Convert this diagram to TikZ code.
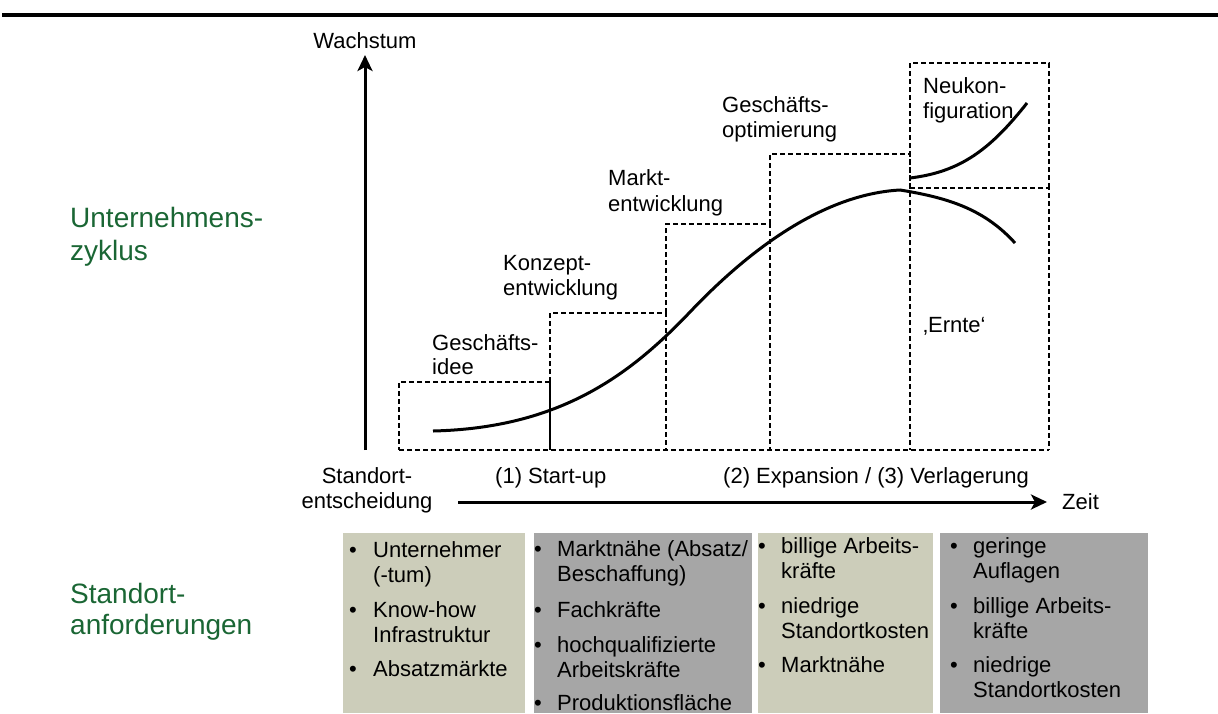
\documentclass[tikz,border=0pt]{standalone}
\usepackage{fontspec}
\setmainfont{Liberation Sans}
\usetikzlibrary{arrows.meta}
\definecolor{ugreen}{RGB}{26,102,52}
\definecolor{boxbeige}{RGB}{204,205,186}
\definecolor{boxgray}{RGB}{166,166,166}
\begin{document}
\begin{tikzpicture}[x=1pt,y=-1pt,
  lbl/.style={anchor=base west, inner sep=0pt, font=\fontsize{22}{25}\selectfont},
  clbl/.style={anchor=base, inner sep=0pt, font=\fontsize{22}{25}\selectfont},
  glbl/.style={anchor=base west, inner sep=0pt, text=ugreen, font=\fontsize{28}{33}\selectfont},
  phaseline/.style={line width=1.8pt, dash pattern=on 5pt off 3pt},
  solidedge/.style={line width=1.8pt},
  axisline/.style={line width=3pt, -{Stealth[length=16pt,width=15pt,inset=4pt]}},
  curveline/.style={line width=3pt}
]
\useasboundingbox (0,0) rectangle (1218,713);

% top rule
\draw[line width=3.5pt] (2,15) -- (1218,15);

% green side labels
\node[glbl] (uz1) at (70,227) {Unternehmens-};
\node[glbl] (uz2) at (70,260) {zyklus};
\node[glbl] (sa1) at (70,603) {Standort-};
\node[glbl] (sa2) at (70,634) {anforderungen};

% axes
\coordinate (yb) at (365,450);
\coordinate (yt) at (365,55);
\coordinate (xl) at (458,502);
\coordinate (xr) at (1047,502);
\draw[axisline] (yb) -- (yt);
\draw[axisline] (xl) -- (xr);
\node[clbl] (wachstum) at (365,48) {Wachstum};
\node[lbl] (zeit) at (1062,509) {Zeit};
\node[clbl] (so1) at (367,483) {Standort-};
\node[clbl] (so2) at (367,508) {entscheidung};
\node[lbl] (start) at (495,483) {(1) Start-up};
\node[lbl] (exp) at (723,483) {(2) Expansion / (3) Verlagerung};

% phase boxes (shared edges drawn once)
\draw[phaseline] (399,450) -- (1049,450);
\draw[phaseline] (550,382) -- (399,382) -- (399,450);
\draw[solidedge] (550,382) -- (550,450);
\draw[phaseline] (550,382) -- (550,313) -- (666,313) -- (666,450);
\draw[phaseline] (666,313) -- (666,224) -- (770,224) -- (770,450);
\draw[phaseline] (770,224) -- (770,154) -- (910,154) -- (910,450);
\draw[phaseline] (910,188) -- (1049,188) -- (1049,450);
\draw[phaseline] (910,188) -- (910,63) -- (1049,63) -- (1049,188);

% phase labels
\node[lbl] (gi1) at (432,350) {Geschäfts-};
\node[lbl] (gi2) at (432,374) {idee};
\node[lbl] (ke1) at (503,270) {Konzept-};
\node[lbl] (ke2) at (503,295) {entwicklung};
\node[lbl] (me1) at (608,185) {Markt-};
\node[lbl] (me2) at (608,211) {entwicklung};
\node[lbl] (go1) at (722,112) {Geschäfts-};
\node[lbl] (go2) at (722,137) {optimierung};
\node[lbl] (nk1) at (923,93) {Neukon-};
\node[lbl] (nk2) at (923,118) {figuration};
\node[lbl] (ernte) at (923,332) {‚Ernte‘};

% growth curves
\coordinate (c0) at (433,431);
\coordinate (c1) at (690,312);
\coordinate (peak) at (900,190);
\coordinate (c3) at (1015,243);
\coordinate (u0) at (910,178);
\coordinate (u1) at (1027,103);
\draw[curveline] (c0) .. controls (560,428) and (630,375) .. (c1)
                      .. controls (730,270) and (810,195) .. (peak)
                      .. controls (950,198) and (985,210) .. (c3);
\draw[curveline] (u0) .. controls (960,172) and (990,150) .. (u1);

% requirement boxes
\fill[boxbeige] (343,533) rectangle (525,713);
\fill[boxgray] (534,533) rectangle (752,713);
\fill[boxbeige] (758,533) rectangle (933,713);
\fill[boxgray] (940,533) rectangle (1148,713);

% box 1
\node[lbl] (b1a) at (349,557) {•};
\node[lbl] (t1a) at (373,557) {Unternehmer};
\node[lbl] (t1b) at (373,582) {(-tum)};
\node[lbl] (b1b) at (349,617) {•};
\node[lbl] (t1c) at (373,617) {Know-how};
\node[lbl] (t1d) at (373,642) {Infrastruktur};
\node[lbl] (b1c) at (349,676) {•};
\node[lbl] (t1e) at (373,676) {Absatzmärkte};

% box 2
\node[lbl] (b2a) at (534,556) {•};
\node[lbl] (t2a) at (557,556) {Marktnähe (Absatz/};
\node[lbl] (t2b) at (557,581) {Beschaffung)};
\node[lbl] (b2b) at (534,617) {•};
\node[lbl] (t2c) at (557,617) {Fachkräfte};
\node[lbl] (b2c) at (534,652) {•};
\node[lbl] (t2d) at (557,652) {hochqualifizierte};
\node[lbl] (t2e) at (557,677) {Arbeitskräfte};
\node[lbl] (b2d) at (534,710) {•};
\node[lbl] (t2f) at (557,710) {Produktionsfläche};

% box 3
\node[lbl] (b3a) at (758,553) {•};
\node[lbl] (t3a) at (781,553) {billige Arbeits-};
\node[lbl] (t3b) at (781,578) {kräfte};
\node[lbl] (b3b) at (758,613) {•};
\node[lbl] (t3c) at (781,613) {niedrige};
\node[lbl] (t3d) at (781,638) {Standortkosten};
\node[lbl] (b3c) at (758,672) {•};
\node[lbl] (t3e) at (781,672) {Marktnähe};

% box 4
\node[lbl] (b4a) at (950,553) {•};
\node[lbl] (t4a) at (973,553) {geringe};
\node[lbl] (t4b) at (973,578) {Auflagen};
\node[lbl] (b4b) at (950,613) {•};
\node[lbl] (t4c) at (973,613) {billige Arbeits-};
\node[lbl] (t4d) at (973,638) {kräfte};
\node[lbl] (b4c) at (950,672) {•};
\node[lbl] (t4e) at (973,672) {niedrige};
\node[lbl] (t4f) at (973,697) {Standortkosten};
\end{tikzpicture}
\end{document}
